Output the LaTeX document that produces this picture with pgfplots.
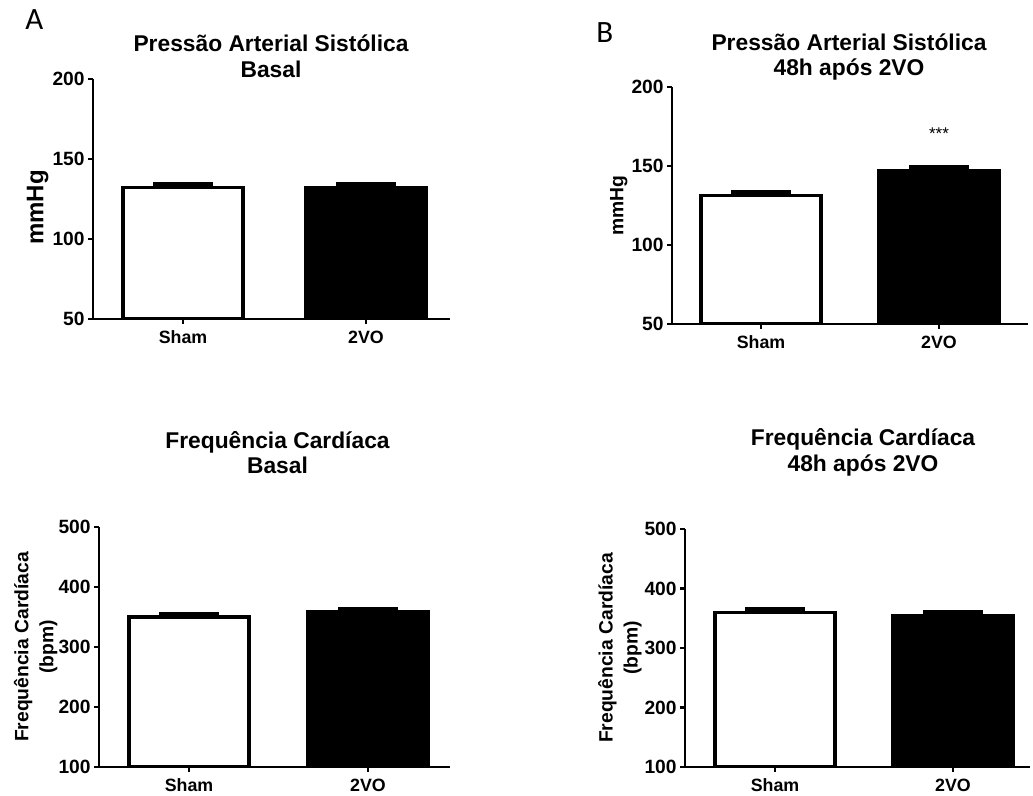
\documentclass[border=0pt]{standalone}
\usepackage{fontspec}
\setmainfont{Liberation Sans}
\newfontfamily\calibri{Carlito}
\usepackage{pgfplots}
\pgfplotsset{compat=1.18}

% 1 px of the reference = 0.5pt
\pgfplotsset{
  panel/.style={
    scale only axis,
    anchor=south west,
    axis x line*=bottom,
    axis y line*=left,
    axis line style={line width=1.2pt},
    enlargelimits=false,
    ybar,
    xtick={0,1},
    xticklabels={Sham,2VO},
    tick align=outside,
    major tick length=2.5pt,
    tick style={line width=1.2pt, black},
    xticklabel style={font=\fontsize{8.9}{10}\selectfont\bfseries},
    yticklabel style={font=\fontsize{9.6}{10}\selectfont\bfseries, inner sep=1.5pt},
    /pgf/number format/assume math mode=true,
    ylabel style={font=\fontsize{9.65}{12.5}\selectfont\bfseries, align=center},
    error bars/y dir=plus,
    error bars/y explicit,
    error bars/error mark=|,
    error bars/error bar style={line width=1pt, black},
    error bars/error mark options={line width=2pt, mark size=15pt, black},
  },
  sham/.style={draw=black, fill=white, line width=1.6pt, bar shift=0pt},
  vo/.style={draw=black, fill=black, line width=1.6pt, bar shift=0pt},
}

\newcommand{\ttl}{\fontsize{11.4}{12.8}\selectfont\bfseries}

\begin{document}
\begin{tikzpicture}
\path[use as bounding box] (0,0) rectangle (516.5pt,398pt);

% A: systolic pressure, basal
\begin{axis}[panel, at={(46.5pt,238.5pt)}, width=178.5pt, height=120pt,
  xmin=-0.492, xmax=1.459, bar width=0.656,
  ymin=50, ymax=200, ytick={50,100,150,200}, ylabel={mmHg}, ylabel shift=-3pt,
  ylabel style={font=\fontsize{12}{14}\selectfont\bfseries, at={(ticklabel cs:0.465)}}]
\addplot[sham] coordinates {(0,132.1) +- (0,2.0)};
\addplot[vo] coordinates {(1,131.9) +- (0,2.2)};
\end{axis}

% B: systolic pressure, 48h after 2VO
\begin{axis}[panel, at={(336pt,236pt)}, width=178pt, height=118.5pt,
  xmin=-0.5, xmax=1.5, bar width=0.674,
  ymin=50, ymax=200, ytick={50,100,150,200}, ylabel={mmHg}, ylabel shift=-3pt]
\addplot[sham] coordinates {(0,131.5) +- (0,2.3)};
\addplot[vo] coordinates {(1,146.8) +- (0,2.6)};
\node[anchor=base, font=\fontsize{8.5}{10}\selectfont] at (axis cs:1,166.6) {***};
\end{axis}

% C: heart rate, basal
\begin{axis}[panel, at={(49.5pt,14.5pt)}, width=175.5pt, height=120pt,
  xmin=-0.503, xmax=1.458, bar width=0.67,
  ymin=100, ymax=500, ytick={100,200,300,400,500},
  ylabel={Frequência Cardíaca\\(bpm)}, ylabel shift=-4.5pt]
\addplot[sham] coordinates {(0,350) +- (0,4.5)};
\addplot[vo] coordinates {(1,359.4) +- (0,4.6)};
\end{axis}

% D: heart rate, 48h after 2VO
\begin{axis}[panel, at={(342.5pt,14.5pt)}, width=172.5pt, height=119pt,
  xmin=-0.506, xmax=1.433, bar width=0.674,
  ymin=100, ymax=500, ytick={100,200,300,400,500},
  ylabel={Frequência Cardíaca\\(bpm)}, ylabel shift=-3.5pt]
\addplot[sham] coordinates {(0,360) +- (0,5.7)};
\addplot[vo] coordinates {(1,354.6) +- (0,6.4)};
\end{axis}

% titles
\node[anchor=base, font=\ttl] at (135.5pt,372.15pt) {Pressão Arterial Sistólica};
\node[anchor=base, font=\ttl] at (135.5pt,359.35pt) {Basal};
\node[anchor=base, font=\ttl] at (424.5pt,372.5pt) {Pressão Arterial Sistólica};
\node[anchor=base, font=\ttl] at (424.5pt,360pt) {48h após 2VO};
\node[anchor=base, font=\ttl] at (138.75pt,173.85pt) {Frequência Cardíaca};
\node[anchor=base, font=\ttl] at (138.75pt,161.35pt) {Basal};
\node[anchor=base, font=\ttl] at (431.5pt,175pt) {Frequência Cardíaca};
\node[anchor=base, font=\ttl] at (431.5pt,162.15pt) {48h após 2VO};

% panel letters
\node[anchor=base west, inner sep=0pt, font=\calibri\fontsize{15.5}{16}\selectfont] at (12.5pt,383pt) {A};
\node[anchor=base west, inner sep=0pt, font=\calibri\fontsize{15.5}{16}\selectfont] at (298pt,376.5pt) {B};
\end{tikzpicture}
\end{document}
